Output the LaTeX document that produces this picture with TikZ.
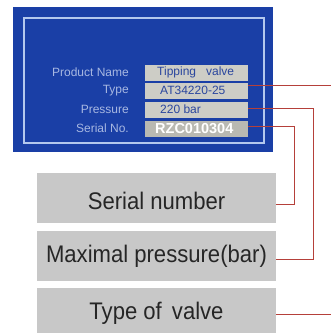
\documentclass[tikz,border=0pt]{standalone}
\usepackage{fontspec}
\setmainfont{Liberation Sans}
\newfontfamily\bigfont{Liberation Sans}[FakeStretch=0.92]
\usetikzlibrary{calc}
\definecolor{panelblue}{HTML}{1A3FA6}
\definecolor{frameline}{HTML}{B4C8EE}
\definecolor{lbltext}{HTML}{A8B8E2}
\definecolor{valfill}{HTML}{CDCDC6}
\definecolor{serfill}{HTML}{B9B9B2}
\definecolor{valtext}{HTML}{2A469E}
\definecolor{boxgray}{HTML}{C8C8C8}
\definecolor{leadred}{HTML}{B5403A}
\tikzset{
  lbl/.style={anchor=east, text=lbltext, font=\fontsize{12}{12}\selectfont, inner sep=0pt},
  valbox/.style={fill=valfill, minimum width=103pt, minimum height=16pt, inner sep=0pt},
  valtxt/.style={anchor=west, text=valtext, font=\fontsize{12}{12}\selectfont, inner sep=0pt},
  graybox/.style={fill=boxgray, minimum width=239pt, minimum height=50pt, inner sep=0pt},
  graytxt/.style={text=black!85, font=\bigfont\fontsize{24}{24}\selectfont, inner sep=0pt},
  leader/.style={draw=leadred, line width=1pt}
}
\begin{document}
\begin{tikzpicture}[x=1pt,y=-1pt]
\useasboundingbox (0,0) rectangle (331,333);
\fill[white] (0,0) rectangle (331,333);
% panel
\node[fill=panelblue, minimum width=260pt, minimum height=145pt, inner sep=0pt] (panel) at (143,79.5) {};
\node[draw=frameline, line width=1.3pt, minimum width=240pt, minimum height=125pt, inner sep=0pt] (frame) at (144,80.5) {};
% labels
\node[lbl] (lname) at (129,72.5) {Product Name};
\node[lbl] (ltype) at (129,90.5) {Type};
\node[lbl] (lpress) at (129,109.5) {Pressure};
\node[lbl] (lser) at (129,128.5) {Serial No.};
% value boxes
\node[valbox] (vname) at (196.5,72.5) {};
\node[valbox] (vtype) at (196.5,90.5) {};
\node[valbox] (vpress) at (196.5,109.5) {};
\node[valbox, fill=serfill] (vser) at (196.5,128.5) {};
\node[valtxt] (tname) at (157,72.5) {Tipping\hspace{10pt}valve};
\node[valtxt] (ttype) at (160,90.5) {AT34220-25};
\node[valtxt] (tpress) at (160,109.5) {220 bar};
\node[valtxt, text=white, font=\bfseries\fontsize{14.5}{14.5}\selectfont] (tser) at (155,128.5) {RZC010304};
% gray boxes
\node[graybox] (bser) at (156.5,198) {};
\node[graybox] (bmax) at (156.5,256) {};
\node[graybox] (btype) at (156.5,313) {};
\node[graytxt] (gser) at (156.5,201) {Serial number};
\node[graytxt] (gmax) at (156.5,256) {Maximal pressure(bar)};
\node[graytxt] (gtype) at (156.5,313) {Type of\, valve};
% leaders
\draw[leader] ($(vser.east)+(0,-2.5)$) -| ($(bser.east)+(18,6)$) -- ($(bser.east)+(0,6)$);
\draw[leader] ($(vpress.east)+(0,-1.5)$) -| ($(bmax.east)+(37,3)$) -- ($(bmax.east)+(0,3)$);
\draw[leader] ($(vtype.east)+(0,-5.5)$) -| ($(btype.east)+(58,1)$) -- ($(btype.east)+(0,1)$);
\end{tikzpicture}
\end{document}
